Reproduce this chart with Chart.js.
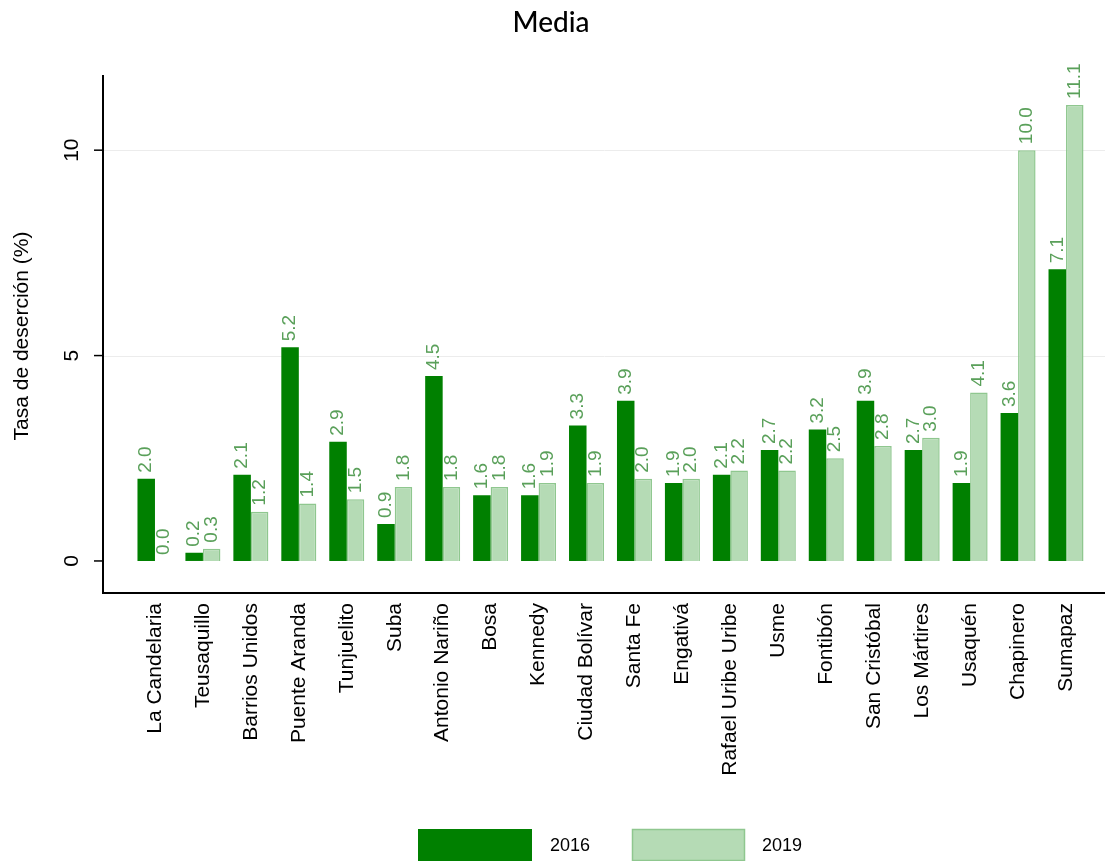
<!DOCTYPE html>
<html>
<head>
<meta charset="utf-8">
<script src="https://cdn.jsdelivr.net/npm/chart.js@4.4.1/dist/chart.umd.min.js"></script>
<style>
  html, body { margin: 0; padding: 0; background: #fff; }
  #wrap { width: 1109px; height: 861px; position: relative; }
</style>
</head>
<body>
<div id="wrap"><canvas id="desercion"></canvas></div>
<script>
// Localidades (eje x)
const localidades = ['La Candelaria', 'Teusaquillo', 'Barrios Unidos', 'Puente Aranda', 'Tunjuelito',
    'Suba', 'Antonio Nariño', 'Bosa', 'Kennedy', 'Ciudad Bolívar', 'Santa Fe', 'Engativá',
    'Rafael Uribe Uribe', 'Usme', 'Fontibón', 'San Cristóbal', 'Los Mártires', 'Usaquén',
    'Chapinero', 'Sumapaz'];

// Tasa de deserción (%)
const tasa2016 = [2.0, 0.2, 2.1, 5.2, 2.9, 0.9, 4.5, 1.6, 1.6, 3.3, 3.9, 1.9, 2.1, 2.7, 3.2, 3.9, 2.7, 1.9, 3.6, 7.1];
const tasa2019 = [0.0, 0.3, 1.2, 1.4, 1.5, 1.8, 1.8, 1.8, 1.9, 1.9, 2.0, 2.0, 2.2, 2.2, 2.5, 2.8, 3.0, 4.1, 10.0, 11.1];

const ticksY = [0, 5, 10];
const titulo = 'Media';
const tituloY = 'Tasa de deserción (%)';

const VERDE = '#008000';
const VERDE_CLARO = '#b5dbb5';
const VERDE_BORDE = '#8fc78f';
const VERDE_ETIQ = '#5aa05a';
const FUENTE = '"Liberation Sans", Arial, sans-serif';

// Dibujo manual de ejes, títulos, etiquetas y leyenda
const decoracion = {
    id: 'decoracion',
    beforeDatasetsDraw(chart) {
        const ctx = chart.ctx;
        const y = chart.scales.y;
        ctx.save();
        ctx.strokeStyle = '#ececec';
        ctx.lineWidth = 1;
        ticksY.forEach(v => {
            if (v === 0) return;
            const py = Math.round(y.getPixelForValue(v)) + 0.5;
            ctx.beginPath();
            ctx.moveTo(104, py);
            ctx.lineTo(1105, py);
            ctx.stroke();
        });
        ctx.restore();
    },
    afterDraw(chart) {
        const ctx = chart.ctx;
        const y = chart.scales.y;
        const area = chart.chartArea;
        ctx.save();

        // Título
        ctx.fillStyle = '#000';
        ctx.font = '500 28px Lato, "Open Sans", sans-serif';
        ctx.textAlign = 'center';
        ctx.textBaseline = 'middle';
        ctx.fillText(titulo, 551, 23);

        // Ejes
        ctx.strokeStyle = '#000';
        ctx.lineWidth = 2;
        ctx.beginPath();
        ctx.moveTo(103, area.top);
        ctx.lineTo(103, area.bottom);
        ctx.lineTo(1105, area.bottom);
        ctx.stroke();

        // Ticks del eje y
        ctx.lineWidth = 1.5;
        ctx.font = '21px ' + FUENTE;
        ticksY.forEach(v => {
            const py = y.getPixelForValue(v);
            ctx.beginPath();
            ctx.moveTo(94, py);
            ctx.lineTo(103, py);
            ctx.stroke();
            ctx.save();
            ctx.translate(72, py);
            ctx.rotate(-Math.PI / 2);
            ctx.textAlign = 'center';
            ctx.textBaseline = 'middle';
            ctx.fillText(String(v), 0, 0);
            ctx.restore();
        });

        // Título del eje y
        ctx.save();
        ctx.translate(22, (area.top + area.bottom) / 2 + 2);
        ctx.rotate(-Math.PI / 2);
        ctx.textAlign = 'center';
        ctx.textBaseline = 'middle';
        ctx.fillText(tituloY, 0, 0);
        ctx.restore();

        // Etiquetas de valores
        ctx.fillStyle = VERDE_ETIQ;
        ctx.font = '19px ' + FUENTE;
        chart.data.datasets.forEach((ds, i) => {
            chart.getDatasetMeta(i).data.forEach((bar, j) => {
                ctx.save();
                ctx.translate(bar.x, bar.y - 6);
                ctx.rotate(-Math.PI / 2);
                ctx.textAlign = 'left';
                ctx.textBaseline = 'middle';
                ctx.fillText(ds.data[j].toFixed(1), 0, 0);
                ctx.restore();
            });
        });

        // Leyenda
        ctx.font = '18px ' + FUENTE;
        ctx.textAlign = 'left';
        ctx.textBaseline = 'middle';
        ctx.fillStyle = VERDE;
        ctx.fillRect(418, 829, 114, 32);
        ctx.fillStyle = VERDE_CLARO;
        ctx.fillRect(632, 829, 113, 32);
        ctx.strokeStyle = VERDE_BORDE;
        ctx.lineWidth = 1.5;
        ctx.strokeRect(632.5, 829.5, 112, 31);
        ctx.fillStyle = '#000';
        ctx.fillText('2016', 550, 846);
        ctx.fillText('2019', 762, 846);

        ctx.restore();
    }
};

new Chart(document.getElementById('desercion'), {
    type: 'bar',
    data: {
        labels: localidades,
        datasets: [
            {
                label: '2016',
                data: tasa2016,
                backgroundColor: VERDE,
                borderWidth: 0
            },
            {
                label: '2019',
                data: tasa2019,
                backgroundColor: VERDE_CLARO,
                borderColor: VERDE_BORDE,
                borderWidth: 1.5
            }
        ]
    },
    options: {
        responsive: true,
        maintainAspectRatio: false,
        animation: false,
        layout: { padding: { top: 75, right: 19, left: 0, bottom: 0 } },
        datasets: {
            bar: { categoryPercentage: 0.73, barPercentage: 1.0 }
        },
        scales: {
            x: {
                grid: { display: false, drawTicks: false },
                border: { display: false },
                afterFit: s => { s.height = 268; },
                ticks: {
                    minRotation: 90,
                    maxRotation: 90,
                    autoSkip: false,
                    padding: 10,
                    color: '#000',
                    font: { family: FUENTE, size: 21 }
                }
            },
            y: {
                min: -0.78,
                max: 11.83,
                afterFit: s => { s.width = 131; },
                grid: { display: false },
                border: { display: false },
                ticks: { display: false }
            }
        },
        plugins: {
            legend: { display: false },
            tooltip: { enabled: false }
        }
    },
    plugins: [decoracion]
});
</script>
</body>
</html>
